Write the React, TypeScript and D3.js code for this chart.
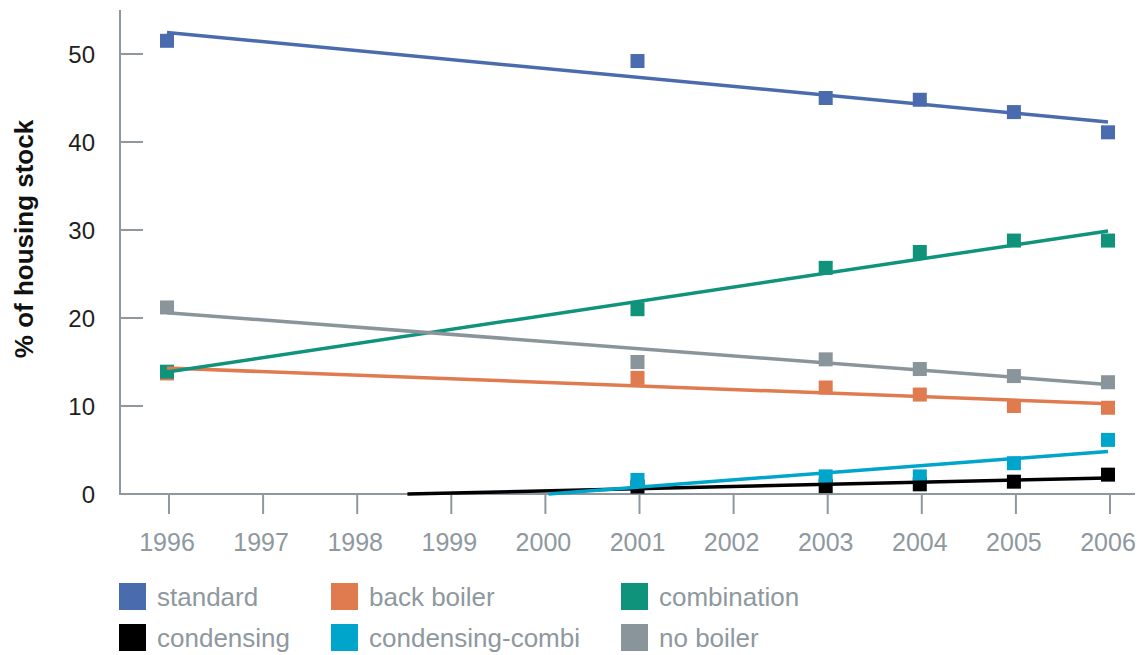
import { useEffect, useRef } from 'react';
import * as d3 from 'd3';

const WIDTH = 1145;
const HEIGHT = 655;

const years = ['1996', '1997', '1998', '1999', '2000', '2001', '2002', '2003', '2004', '2005', '2006'];
const surveyYears = ['1996', '2001', '2003', '2004', '2005', '2006'];

const standard = [51.5, 49.2, 45.0, 44.8, 43.4, 41.1];
const backBoiler = [13.7, 13.2, 12.1, 11.3, 10.0, 9.8];
const combination = [13.9, 21.0, 25.7, 27.5, 28.8, 28.8];
const condensing = [null, 0.85, 0.9, 1.1, 1.4, 2.2];
const condensingCombi = [null, 1.6, 2.0, 2.0, 3.5, 6.15];
const noBoiler = [21.2, 15.0, 15.3, 14.2, 13.4, 12.7];

const yTicks = [0, 10, 20, 30, 40, 50];

const seriesNames = ['standard', 'back boiler', 'combination', 'condensing', 'condensing-combi', 'no boiler'];
const seriesValues = [standard, backBoiler, combination, condensing, condensingCombi, noBoiler];
const seriesColors = ['#4a6cae', '#e07b4f', '#0f937a', '#000000', '#00a5cb', '#89959a'];

const AXIS = '#8e989e';
const FONT = '"Liberation Sans", Arial, Helvetica, sans-serif';

// least squares fit on category index, like the spreadsheet trendline
function fit(xs: number[], ys: number[]) {
  const mx = d3.mean(xs) ?? 0;
  const my = d3.mean(ys) ?? 0;
  let sxy = 0;
  let sxx = 0;
  xs.forEach((x, i) => {
    sxy += (x - mx) * (ys[i] - my);
    sxx += (x - mx) * (x - mx);
  });
  const slope = sxy / sxx;
  return { slope, intercept: my - slope * mx };
}

export default function App() {
  const svgRef = useRef<SVGSVGElement>(null);

  useEffect(() => {
    document.body.style.margin = '0';
    if (!svgRef.current) return;
    const svg = d3.select(svgRef.current);
    svg.selectAll('*').remove();

    const x = d3.scalePoint<string>().domain(years).range([167, 1108]);
    const xi = d3.scaleLinear().domain([0, years.length - 1]).range([167, 1108]);
    const y = d3.scaleLinear().domain([0, 55]).range([494, 10]);

    // axes
    svg.append('line')
      .attr('x1', 120).attr('x2', 120)
      .attr('y1', y(55)).attr('y2', y(0))
      .attr('stroke', AXIS).attr('stroke-width', 2);
    svg.append('line')
      .attr('x1', 119).attr('x2', 1135)
      .attr('y1', y(0)).attr('y2', y(0))
      .attr('stroke', AXIS).attr('stroke-width', 2);

    svg.selectAll('line.ytick')
      .data(yTicks.filter((t) => t > 0))
      .enter()
      .append('line')
      .attr('class', 'ytick')
      .attr('x1', 120).attr('x2', 143)
      .attr('y1', (d) => y(d)).attr('y2', (d) => y(d))
      .attr('stroke', AXIS).attr('stroke-width', 2);

    svg.selectAll('text.ylab')
      .data(yTicks)
      .enter()
      .append('text')
      .attr('class', 'ylab')
      .attr('x', 95)
      .attr('y', (d) => y(d))
      .attr('dy', '0.36em')
      .attr('text-anchor', 'end')
      .attr('font-family', FONT)
      .attr('font-size', 24)
      .attr('fill', '#231f20')
      .text((d) => d);

    svg.selectAll('line.xtick')
      .data(years)
      .enter()
      .append('line')
      .attr('class', 'xtick')
      .attr('x1', (d) => (x(d) ?? 0) + 2).attr('x2', (d) => (x(d) ?? 0) + 2)
      .attr('y1', y(0)).attr('y2', y(0) + 20)
      .attr('stroke', AXIS).attr('stroke-width', 2);

    svg.selectAll('text.xlab')
      .data(years)
      .enter()
      .append('text')
      .attr('class', 'xlab')
      .attr('x', (d) => x(d) ?? 0)
      .attr('y', 551)
      .attr('text-anchor', 'middle')
      .attr('font-family', FONT)
      .attr('font-size', 25)
      .attr('fill', AXIS)
      .text((d) => d);

    svg.append('text')
      .attr('transform', 'translate(33,239) rotate(-90)')
      .attr('text-anchor', 'middle')
      .attr('font-family', FONT)
      .attr('font-size', 26)
      .attr('font-weight', 'bold')
      .attr('fill', '#111')
      .text('% of housing stock');

    // markers
    const M = 14;
    seriesValues.forEach((vals, s) => {
      const pts = surveyYears
        .map((yr, i) => ({ yr, v: vals[i] }))
        .filter((p) => p.v != null) as { yr: string; v: number }[];
      svg.append('g')
        .selectAll('rect')
        .data(pts)
        .enter()
        .append('rect')
        .attr('x', (d) => (x(d.yr) ?? 0) - M / 2)
        .attr('y', (d) => y(d.v) - M / 2)
        .attr('width', M)
        .attr('height', M)
        .attr('fill', seriesColors[s]);
    });

    // trend lines
    seriesValues.forEach((vals, s) => {
      const idx: number[] = [];
      const vs: number[] = [];
      surveyYears.forEach((yr, i) => {
        const v = vals[i];
        if (v != null) {
          idx.push(years.indexOf(yr));
          vs.push(v);
        }
      });
      const { slope, intercept } = fit(idx, vs);
      let start = 0;
      const end = years.length - 1;
      if (intercept + slope * start < 0 && slope > 0) start = -intercept / slope;
      const line = d3.line<number>()
        .x((t) => xi(t))
        .y((t) => y(Math.max(0, intercept + slope * t)));
      svg.append('path')
        .datum([start, end])
        .attr('fill', 'none')
        .attr('stroke', seriesColors[s])
        .attr('stroke-width', 3.5)
        .attr('d', line);
    });

    // legend
    const colX = [119, 331, 621];
    const rowY = [583, 624];
    const legend = svg.append('g')
      .selectAll('g')
      .data(seriesNames)
      .enter()
      .append('g')
      .attr('transform', (_, i) => `translate(${colX[i % 3]},${rowY[Math.floor(i / 3)]})`);
    legend.append('rect')
      .attr('width', 27)
      .attr('height', 27)
      .attr('fill', (_, i) => seriesColors[i]);
    legend.append('text')
      .attr('x', 38)
      .attr('y', 13.5)
      .attr('dy', '0.36em')
      .attr('font-family', FONT)
      .attr('font-size', 26)
      .attr('fill', AXIS)
      .text((d) => d);
  }, []);

  return <svg ref={svgRef} width={WIDTH} height={HEIGHT} style={{ display: 'block', background: '#fff' }} />;
}
